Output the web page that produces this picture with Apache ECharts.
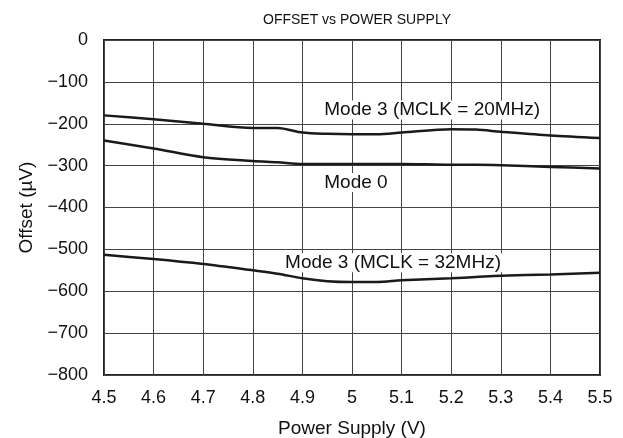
<!DOCTYPE html>
<html lang="en">
<head>
    <meta charset="UTF-8">
    <title>OFFSET vs POWER SUPPLY</title>
    <style>
        * { padding: 0; margin: 0; }
        html, body { width: 623px; height: 438px; background: #fff; }
        #chart { width: 623px; height: 438px; }
    </style>
</head>
<body>
    <div id="chart"></div>
    <script src="https://cdn.jsdelivr.net/npm/echarts@6/dist/echarts.min.js"></script>
    <script type="text/javascript">
        // supply voltage (V)
        const supply = [4.5, 4.6, 4.7, 4.8, 4.85, 4.9, 4.95, 5.0, 5.05, 5.1, 5.2, 5.25, 5.3, 5.4, 5.5];
        // offset (uV)
        const mode3_20MHz = [-180, -189, -200, -210, -210, -221, -224, -225, -225, -221, -213, -214, -219, -228, -234];
        const mode0 = [-240, -259, -280, -289, -292, -296, -296, -296, -296, -296, -298, -298, -299, -303, -307];
        const mode3_32MHz = [-513, -523, -535, -550, -558, -569, -576, -578, -578, -574, -569, -566, -563, -560, -556];

        // curve labels: [x, y, text]
        const curveLabels = [
            [4.94, -167, 'Mode 3 (MCLK = 20MHz)'],
            [4.94, -340, 'Mode 0'],
            [4.861, -532, 'Mode 3 (MCLK = 32MHz)']
        ];

        const font = '"Liberation Sans", Arial, Helvetica, sans-serif';
        const toPairs = ys => supply.map((x, i) => [x, ys[i]]);

        function lineSeries(name, ys) {
            return {
                name: name,
                type: 'line',
                data: toPairs(ys),
                smooth: 0.3,
                showSymbol: false,
                lineStyle: { color: '#1a1a1a', width: 2.5 },
                z: 5
            };
        }

        const chart = echarts.init(document.getElementById('chart'));
        chart.setOption({
            animation: false,
            backgroundColor: '#fff',
            title: {
                text: 'OFFSET vs POWER SUPPLY',
                left: 352,
                textAlign: 'center',
                top: 8,
                textStyle: { fontFamily: font, fontSize: 14, fontWeight: 'normal', color: '#111' }
            },
            grid: {
                left: 104, right: 23, top: 40, bottom: 63,
                outerBoundsMode: 'none',
                containLabel: false,
                show: true,
                borderColor: '#222',
                borderWidth: 2
            },
            xAxis: {
                type: 'value',
                min: 4.5, max: 5.5, interval: 0.1,
                name: 'Power Supply (V)',
                nameLocation: 'middle',
                nameGap: 44,
                nameTextStyle: { fontFamily: font, fontSize: 19, color: '#111' },
                axisLine: { show: false },
                axisTick: { show: false },
                axisLabel: {
                    margin: 14,
                    fontFamily: font, fontSize: 18, color: '#111',
                    formatter: v => String(Math.round(v * 10) / 10)
                },
                splitLine: { show: true, lineStyle: { color: '#444', width: 1 } }
            },
            yAxis: {
                type: 'value',
                min: -800, max: 0, interval: 100,
                name: 'Offset (\u00b5V)',
                nameLocation: 'middle',
                nameGap: 67,
                nameTextStyle: { fontFamily: font, fontSize: 19, color: '#111' },
                axisLine: { show: false },
                axisTick: { show: false },
                axisLabel: {
                    margin: 16,
                    fontFamily: font, fontSize: 18, color: '#111',
                    formatter: v => v < 0 ? '\u2212' + Math.abs(v) : String(v)
                },
                splitLine: { show: true, lineStyle: { color: '#444', width: 1 } }
            },
            series: [
                lineSeries('Mode 3 (MCLK = 20MHz)', mode3_20MHz),
                lineSeries('Mode 0', mode0),
                lineSeries('Mode 3 (MCLK = 32MHz)', mode3_32MHz),
                {
                    type: 'scatter',
                    symbolSize: 0,
                    silent: true,
                    itemStyle: { opacity: 1 },
                    data: curveLabels.map(d => ({ value: [d[0], d[1]], name: d[2] })),
                    label: {
                        show: true,
                        position: 'right',
                        distance: 0,
                        formatter: p => p.name,
                        fontFamily: font, fontSize: 19, color: '#111',
                        backgroundColor: '#fff',
                        padding: [0, 2]
                    },
                    z: 6
                }
            ]
        });
    </script>
</body>
</html>
